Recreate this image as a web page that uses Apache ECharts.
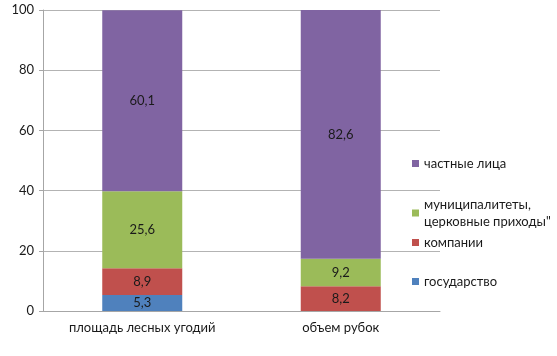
<!DOCTYPE html>
<html><head><meta charset="utf-8">
<script src="https://cdn.jsdelivr.net/npm/echarts@6/dist/echarts.min.js"></script>
<style>html,body{margin:0;padding:0;background:#fff}#c{width:557px;height:356px}</style>
</head><body><div id="c"></div>
<script>
const categories = ['площадь лесных угодий', 'объем рубок'];
const seriesNames = ['государство', 'компании', 'муниципалитеты,\nцерковные приходы"', 'частные лица'];
const gosudarstvo = [5.3, 0];
const kompanii = [8.9, 8.2];
const municipal = [25.6, 9.2];
const chastnye = [60.1, 82.6];
const yTicks = [0, 20, 40, 60, 80, 100];
const colors = ['#4F81BD', '#C0504D', '#9BBB59', '#8064A2'];
const values = [gosudarstvo, kompanii, municipal, chastnye];
const font = 'Lato, "Open Sans", sans-serif';

const chart = echarts.init(document.getElementById('c'));
const legendTops = [268, 229, 191, 150];
chart.setOption({
  animation: false,
  textStyle: {fontFamily: font},
  grid: {left: 43, right: 117, top: 10, bottom: 45},
  legend: seriesNames.map((n, i) => ({
    data: [n], left: 407, top: legendTops[i], itemWidth: 7, itemHeight: 7, itemGap: 4,
    icon: 'rect', textStyle: {fontFamily: font, fontSize: 13, color: '#1a1a1a', lineHeight: 17}, selectedMode: false
  })),
  xAxis: {
    type: 'category', data: categories,
    axisLine: {lineStyle: {color: '#a6a6a6'}}, axisTick: {show: false},
    axisLabel: {fontSize: 13, color: '#1a1a1a', margin: 10, fontFamily: font}
  },
  yAxis: {
    type: 'value', min: 0, max: 100, interval: 20,
    axisLine: {show: true, lineStyle: {color: '#a6a6a6'}},
    axisTick: {show: true, length: 4, lineStyle: {color: '#a6a6a6'}},
    splitLine: {lineStyle: {color: '#b3b3b3'}},
    axisLabel: {fontSize: 13, color: '#1a1a1a', margin: 9, fontFamily: font,
      formatter: v => yTicks.includes(v) ? String(v) : ''}
  },
  series: seriesNames.map((n, i) => ({
    name: n, type: 'bar', stack: 'all', barWidth: 80,
    itemStyle: {color: colors[i]},
    data: values[i].map(v => v === 0 ? null : v),
    label: {show: true, position: 'inside', fontSize: 13, color: '#1a1a1a', fontFamily: font,
      formatter: p => String(p.value).replace('.', ',')}
  }))
});
</script></body></html>
